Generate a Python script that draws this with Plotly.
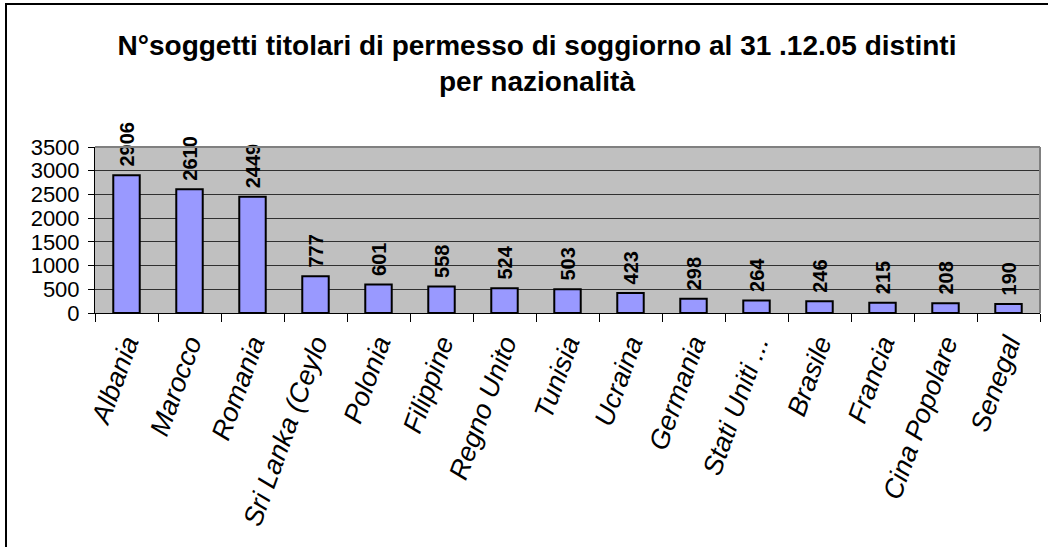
import plotly.graph_objects as go

categories = ["Albania", "Marocco", "Romania", "Sri Lanka (Ceylo", "Polonia", "Filippine",
              "Regno Unito", "Tunisia", "Ucraina", "Germania", "Stati Uniti ...", "Brasile",
              "Francia", "Cina Popolare", "Senegal"]
values = [2906, 2610, 2449, 777, 601, 558, 524, 503, 423, 298, 264, 246, 215, 208, 190]
y_ticks = [0, 500, 1000, 1500, 2000, 2500, 3000, 3500]
title_text = "N°soggetti titolari di permesso di soggiorno al 31 .12.05 distinti<br>per nazionalità"

W, H = 1048, 547
L, R, T, B = 95, 8, 147, 234
pw = W - L - R
ph = H - T - B

FONT = "Liberation Sans, Arial"

fig = go.Figure(go.Bar(
    x=categories, y=values,
    marker=dict(color="#9999FF", line=dict(color="black", width=2)),
    width=0.42,
    text=["\u00a0" + str(v) for v in values],
    textposition="outside",
    textangle=-90,
    constraintext="none",
    cliponaxis=False,
    textfont=dict(family=FONT, size=20, color="black", weight="bold"),
    hoverinfo="skip",
))

def px_x(p):
    return (p - L) / pw

def px_y(p):
    return 1 - (p - T) / ph

fig.update_layout(
    width=W, height=H,
    margin=dict(l=L, r=R, t=T, b=B, autoexpand=False),
    paper_bgcolor="white",
    plot_bgcolor="#C0C0C0",
    showlegend=False,
    font=dict(family=FONT, color="black"),
    title=dict(text=title_text, x=px_x(537), xanchor="center", xref="paper",
               y=1 - 55 / H, yanchor="middle",
               font=dict(size=28, family=FONT, color="black", weight="bold")),
    xaxis=dict(
        type="category",
        tickangle=-70,
        tickfont=dict(size=27, style="italic"),
        showline=True, linecolor="black", linewidth=1,
        ticks="outside", ticklen=8, tickcolor="black", tickwidth=1,
        tickson="boundaries",
        ticklabelstandoff=3,
        showgrid=False,
        range=[-0.5, len(categories) - 0.5],
    ),
    yaxis=dict(
        range=[0, 3500],
        tickvals=y_ticks,
        tickfont=dict(size=22),
        showline=True, linecolor="black", linewidth=1,
        ticks="outside", ticklen=6, tickcolor="black",
        ticklabelstandoff=4,
        showgrid=True, gridcolor="#303030", gridwidth=1,
        zeroline=False,
    ),
    shapes=[
        dict(type="line", xref="paper", yref="paper", x0=0, x1=1, y0=1, y1=1,
             line=dict(color="#808080", width=2)),
        dict(type="line", xref="paper", yref="paper", x0=1, x1=1, y0=0, y1=1,
             line=dict(color="#808080", width=2)),
        dict(type="rect", xref="paper", yref="paper",
             x0=px_x(6), x1=px_x(W + 10), y0=px_y(4), y1=px_y(H + 10),
             line=dict(color="black", width=2), layer="below"),
    ],
)

fig.write_html("out.html", config={"displayModeBar": False},
               post_script="document.body.style.margin='0px';")
